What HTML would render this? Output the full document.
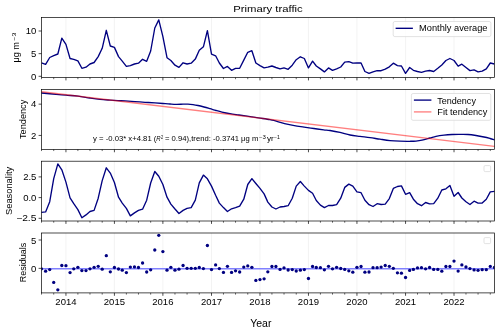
<!DOCTYPE html><html><head><meta charset="utf-8"><style>html,body{margin:0;padding:0;background:#fff;}svg{display:block;will-change:transform;}text{font-family:"Liberation Sans",sans-serif;fill:#000;-webkit-font-smoothing:antialiased;}</style></head><body>
<svg width="500" height="332" viewBox="0 0 500 332">
<rect width="500" height="332" fill="#fff"/>
<text x="268" y="12.4" font-size="9.6" text-anchor="middle" textLength="69.5" lengthAdjust="spacingAndGlyphs">Primary traffic</text>
<line x1="65.94" y1="17.5" x2="65.94" y2="77.5" stroke="#f0f0f0" stroke-width="0.8"/>
<line x1="114.42" y1="17.5" x2="114.42" y2="77.5" stroke="#f0f0f0" stroke-width="0.8"/>
<line x1="162.89" y1="17.5" x2="162.89" y2="77.5" stroke="#f0f0f0" stroke-width="0.8"/>
<line x1="211.50" y1="17.5" x2="211.50" y2="77.5" stroke="#f0f0f0" stroke-width="0.8"/>
<line x1="259.98" y1="17.5" x2="259.98" y2="77.5" stroke="#f0f0f0" stroke-width="0.8"/>
<line x1="308.46" y1="17.5" x2="308.46" y2="77.5" stroke="#f0f0f0" stroke-width="0.8"/>
<line x1="356.94" y1="17.5" x2="356.94" y2="77.5" stroke="#f0f0f0" stroke-width="0.8"/>
<line x1="405.55" y1="17.5" x2="405.55" y2="77.5" stroke="#f0f0f0" stroke-width="0.8"/>
<line x1="454.02" y1="17.5" x2="454.02" y2="77.5" stroke="#f0f0f0" stroke-width="0.8"/>
<line x1="65.94" y1="77.5" x2="65.94" y2="80.4" stroke="#000" stroke-width="0.7"/>
<line x1="114.42" y1="77.5" x2="114.42" y2="80.4" stroke="#000" stroke-width="0.7"/>
<line x1="162.89" y1="77.5" x2="162.89" y2="80.4" stroke="#000" stroke-width="0.7"/>
<line x1="211.50" y1="77.5" x2="211.50" y2="80.4" stroke="#000" stroke-width="0.7"/>
<line x1="259.98" y1="77.5" x2="259.98" y2="80.4" stroke="#000" stroke-width="0.7"/>
<line x1="308.46" y1="77.5" x2="308.46" y2="80.4" stroke="#000" stroke-width="0.7"/>
<line x1="356.94" y1="77.5" x2="356.94" y2="80.4" stroke="#000" stroke-width="0.7"/>
<line x1="405.55" y1="77.5" x2="405.55" y2="80.4" stroke="#000" stroke-width="0.7"/>
<line x1="454.02" y1="77.5" x2="454.02" y2="80.4" stroke="#000" stroke-width="0.7"/>
<line x1="41.50" y1="77.5" x2="41.50" y2="79.2" stroke="#000" stroke-width="0.6"/>
<line x1="53.72" y1="77.5" x2="53.72" y2="79.2" stroke="#000" stroke-width="0.6"/>
<line x1="77.89" y1="77.5" x2="77.89" y2="79.2" stroke="#000" stroke-width="0.6"/>
<line x1="89.98" y1="77.5" x2="89.98" y2="79.2" stroke="#000" stroke-width="0.6"/>
<line x1="102.20" y1="77.5" x2="102.20" y2="79.2" stroke="#000" stroke-width="0.6"/>
<line x1="126.37" y1="77.5" x2="126.37" y2="79.2" stroke="#000" stroke-width="0.6"/>
<line x1="138.46" y1="77.5" x2="138.46" y2="79.2" stroke="#000" stroke-width="0.6"/>
<line x1="150.67" y1="77.5" x2="150.67" y2="79.2" stroke="#000" stroke-width="0.6"/>
<line x1="174.98" y1="77.5" x2="174.98" y2="79.2" stroke="#000" stroke-width="0.6"/>
<line x1="187.07" y1="77.5" x2="187.07" y2="79.2" stroke="#000" stroke-width="0.6"/>
<line x1="199.28" y1="77.5" x2="199.28" y2="79.2" stroke="#000" stroke-width="0.6"/>
<line x1="223.46" y1="77.5" x2="223.46" y2="79.2" stroke="#000" stroke-width="0.6"/>
<line x1="235.54" y1="77.5" x2="235.54" y2="79.2" stroke="#000" stroke-width="0.6"/>
<line x1="247.76" y1="77.5" x2="247.76" y2="79.2" stroke="#000" stroke-width="0.6"/>
<line x1="271.93" y1="77.5" x2="271.93" y2="79.2" stroke="#000" stroke-width="0.6"/>
<line x1="284.02" y1="77.5" x2="284.02" y2="79.2" stroke="#000" stroke-width="0.6"/>
<line x1="296.24" y1="77.5" x2="296.24" y2="79.2" stroke="#000" stroke-width="0.6"/>
<line x1="320.41" y1="77.5" x2="320.41" y2="79.2" stroke="#000" stroke-width="0.6"/>
<line x1="332.50" y1="77.5" x2="332.50" y2="79.2" stroke="#000" stroke-width="0.6"/>
<line x1="344.72" y1="77.5" x2="344.72" y2="79.2" stroke="#000" stroke-width="0.6"/>
<line x1="369.02" y1="77.5" x2="369.02" y2="79.2" stroke="#000" stroke-width="0.6"/>
<line x1="381.11" y1="77.5" x2="381.11" y2="79.2" stroke="#000" stroke-width="0.6"/>
<line x1="393.33" y1="77.5" x2="393.33" y2="79.2" stroke="#000" stroke-width="0.6"/>
<line x1="417.50" y1="77.5" x2="417.50" y2="79.2" stroke="#000" stroke-width="0.6"/>
<line x1="429.59" y1="77.5" x2="429.59" y2="79.2" stroke="#000" stroke-width="0.6"/>
<line x1="441.81" y1="77.5" x2="441.81" y2="79.2" stroke="#000" stroke-width="0.6"/>
<line x1="465.98" y1="77.5" x2="465.98" y2="79.2" stroke="#000" stroke-width="0.6"/>
<line x1="478.06" y1="77.5" x2="478.06" y2="79.2" stroke="#000" stroke-width="0.6"/>
<line x1="490.28" y1="77.5" x2="490.28" y2="79.2" stroke="#000" stroke-width="0.6"/>
<line x1="65.94" y1="89.4" x2="65.94" y2="149.35" stroke="#f0f0f0" stroke-width="0.8"/>
<line x1="114.42" y1="89.4" x2="114.42" y2="149.35" stroke="#f0f0f0" stroke-width="0.8"/>
<line x1="162.89" y1="89.4" x2="162.89" y2="149.35" stroke="#f0f0f0" stroke-width="0.8"/>
<line x1="211.50" y1="89.4" x2="211.50" y2="149.35" stroke="#f0f0f0" stroke-width="0.8"/>
<line x1="259.98" y1="89.4" x2="259.98" y2="149.35" stroke="#f0f0f0" stroke-width="0.8"/>
<line x1="308.46" y1="89.4" x2="308.46" y2="149.35" stroke="#f0f0f0" stroke-width="0.8"/>
<line x1="356.94" y1="89.4" x2="356.94" y2="149.35" stroke="#f0f0f0" stroke-width="0.8"/>
<line x1="405.55" y1="89.4" x2="405.55" y2="149.35" stroke="#f0f0f0" stroke-width="0.8"/>
<line x1="454.02" y1="89.4" x2="454.02" y2="149.35" stroke="#f0f0f0" stroke-width="0.8"/>
<line x1="65.94" y1="149.35" x2="65.94" y2="152.25" stroke="#000" stroke-width="0.7"/>
<line x1="114.42" y1="149.35" x2="114.42" y2="152.25" stroke="#000" stroke-width="0.7"/>
<line x1="162.89" y1="149.35" x2="162.89" y2="152.25" stroke="#000" stroke-width="0.7"/>
<line x1="211.50" y1="149.35" x2="211.50" y2="152.25" stroke="#000" stroke-width="0.7"/>
<line x1="259.98" y1="149.35" x2="259.98" y2="152.25" stroke="#000" stroke-width="0.7"/>
<line x1="308.46" y1="149.35" x2="308.46" y2="152.25" stroke="#000" stroke-width="0.7"/>
<line x1="356.94" y1="149.35" x2="356.94" y2="152.25" stroke="#000" stroke-width="0.7"/>
<line x1="405.55" y1="149.35" x2="405.55" y2="152.25" stroke="#000" stroke-width="0.7"/>
<line x1="454.02" y1="149.35" x2="454.02" y2="152.25" stroke="#000" stroke-width="0.7"/>
<line x1="41.50" y1="149.35" x2="41.50" y2="151.04999999999998" stroke="#000" stroke-width="0.6"/>
<line x1="53.72" y1="149.35" x2="53.72" y2="151.04999999999998" stroke="#000" stroke-width="0.6"/>
<line x1="77.89" y1="149.35" x2="77.89" y2="151.04999999999998" stroke="#000" stroke-width="0.6"/>
<line x1="89.98" y1="149.35" x2="89.98" y2="151.04999999999998" stroke="#000" stroke-width="0.6"/>
<line x1="102.20" y1="149.35" x2="102.20" y2="151.04999999999998" stroke="#000" stroke-width="0.6"/>
<line x1="126.37" y1="149.35" x2="126.37" y2="151.04999999999998" stroke="#000" stroke-width="0.6"/>
<line x1="138.46" y1="149.35" x2="138.46" y2="151.04999999999998" stroke="#000" stroke-width="0.6"/>
<line x1="150.67" y1="149.35" x2="150.67" y2="151.04999999999998" stroke="#000" stroke-width="0.6"/>
<line x1="174.98" y1="149.35" x2="174.98" y2="151.04999999999998" stroke="#000" stroke-width="0.6"/>
<line x1="187.07" y1="149.35" x2="187.07" y2="151.04999999999998" stroke="#000" stroke-width="0.6"/>
<line x1="199.28" y1="149.35" x2="199.28" y2="151.04999999999998" stroke="#000" stroke-width="0.6"/>
<line x1="223.46" y1="149.35" x2="223.46" y2="151.04999999999998" stroke="#000" stroke-width="0.6"/>
<line x1="235.54" y1="149.35" x2="235.54" y2="151.04999999999998" stroke="#000" stroke-width="0.6"/>
<line x1="247.76" y1="149.35" x2="247.76" y2="151.04999999999998" stroke="#000" stroke-width="0.6"/>
<line x1="271.93" y1="149.35" x2="271.93" y2="151.04999999999998" stroke="#000" stroke-width="0.6"/>
<line x1="284.02" y1="149.35" x2="284.02" y2="151.04999999999998" stroke="#000" stroke-width="0.6"/>
<line x1="296.24" y1="149.35" x2="296.24" y2="151.04999999999998" stroke="#000" stroke-width="0.6"/>
<line x1="320.41" y1="149.35" x2="320.41" y2="151.04999999999998" stroke="#000" stroke-width="0.6"/>
<line x1="332.50" y1="149.35" x2="332.50" y2="151.04999999999998" stroke="#000" stroke-width="0.6"/>
<line x1="344.72" y1="149.35" x2="344.72" y2="151.04999999999998" stroke="#000" stroke-width="0.6"/>
<line x1="369.02" y1="149.35" x2="369.02" y2="151.04999999999998" stroke="#000" stroke-width="0.6"/>
<line x1="381.11" y1="149.35" x2="381.11" y2="151.04999999999998" stroke="#000" stroke-width="0.6"/>
<line x1="393.33" y1="149.35" x2="393.33" y2="151.04999999999998" stroke="#000" stroke-width="0.6"/>
<line x1="417.50" y1="149.35" x2="417.50" y2="151.04999999999998" stroke="#000" stroke-width="0.6"/>
<line x1="429.59" y1="149.35" x2="429.59" y2="151.04999999999998" stroke="#000" stroke-width="0.6"/>
<line x1="441.81" y1="149.35" x2="441.81" y2="151.04999999999998" stroke="#000" stroke-width="0.6"/>
<line x1="465.98" y1="149.35" x2="465.98" y2="151.04999999999998" stroke="#000" stroke-width="0.6"/>
<line x1="478.06" y1="149.35" x2="478.06" y2="151.04999999999998" stroke="#000" stroke-width="0.6"/>
<line x1="490.28" y1="149.35" x2="490.28" y2="151.04999999999998" stroke="#000" stroke-width="0.6"/>
<line x1="65.94" y1="161.2" x2="65.94" y2="221.0" stroke="#f0f0f0" stroke-width="0.8"/>
<line x1="114.42" y1="161.2" x2="114.42" y2="221.0" stroke="#f0f0f0" stroke-width="0.8"/>
<line x1="162.89" y1="161.2" x2="162.89" y2="221.0" stroke="#f0f0f0" stroke-width="0.8"/>
<line x1="211.50" y1="161.2" x2="211.50" y2="221.0" stroke="#f0f0f0" stroke-width="0.8"/>
<line x1="259.98" y1="161.2" x2="259.98" y2="221.0" stroke="#f0f0f0" stroke-width="0.8"/>
<line x1="308.46" y1="161.2" x2="308.46" y2="221.0" stroke="#f0f0f0" stroke-width="0.8"/>
<line x1="356.94" y1="161.2" x2="356.94" y2="221.0" stroke="#f0f0f0" stroke-width="0.8"/>
<line x1="405.55" y1="161.2" x2="405.55" y2="221.0" stroke="#f0f0f0" stroke-width="0.8"/>
<line x1="454.02" y1="161.2" x2="454.02" y2="221.0" stroke="#f0f0f0" stroke-width="0.8"/>
<line x1="65.94" y1="221.0" x2="65.94" y2="223.9" stroke="#000" stroke-width="0.7"/>
<line x1="114.42" y1="221.0" x2="114.42" y2="223.9" stroke="#000" stroke-width="0.7"/>
<line x1="162.89" y1="221.0" x2="162.89" y2="223.9" stroke="#000" stroke-width="0.7"/>
<line x1="211.50" y1="221.0" x2="211.50" y2="223.9" stroke="#000" stroke-width="0.7"/>
<line x1="259.98" y1="221.0" x2="259.98" y2="223.9" stroke="#000" stroke-width="0.7"/>
<line x1="308.46" y1="221.0" x2="308.46" y2="223.9" stroke="#000" stroke-width="0.7"/>
<line x1="356.94" y1="221.0" x2="356.94" y2="223.9" stroke="#000" stroke-width="0.7"/>
<line x1="405.55" y1="221.0" x2="405.55" y2="223.9" stroke="#000" stroke-width="0.7"/>
<line x1="454.02" y1="221.0" x2="454.02" y2="223.9" stroke="#000" stroke-width="0.7"/>
<line x1="41.50" y1="221.0" x2="41.50" y2="222.7" stroke="#000" stroke-width="0.6"/>
<line x1="53.72" y1="221.0" x2="53.72" y2="222.7" stroke="#000" stroke-width="0.6"/>
<line x1="77.89" y1="221.0" x2="77.89" y2="222.7" stroke="#000" stroke-width="0.6"/>
<line x1="89.98" y1="221.0" x2="89.98" y2="222.7" stroke="#000" stroke-width="0.6"/>
<line x1="102.20" y1="221.0" x2="102.20" y2="222.7" stroke="#000" stroke-width="0.6"/>
<line x1="126.37" y1="221.0" x2="126.37" y2="222.7" stroke="#000" stroke-width="0.6"/>
<line x1="138.46" y1="221.0" x2="138.46" y2="222.7" stroke="#000" stroke-width="0.6"/>
<line x1="150.67" y1="221.0" x2="150.67" y2="222.7" stroke="#000" stroke-width="0.6"/>
<line x1="174.98" y1="221.0" x2="174.98" y2="222.7" stroke="#000" stroke-width="0.6"/>
<line x1="187.07" y1="221.0" x2="187.07" y2="222.7" stroke="#000" stroke-width="0.6"/>
<line x1="199.28" y1="221.0" x2="199.28" y2="222.7" stroke="#000" stroke-width="0.6"/>
<line x1="223.46" y1="221.0" x2="223.46" y2="222.7" stroke="#000" stroke-width="0.6"/>
<line x1="235.54" y1="221.0" x2="235.54" y2="222.7" stroke="#000" stroke-width="0.6"/>
<line x1="247.76" y1="221.0" x2="247.76" y2="222.7" stroke="#000" stroke-width="0.6"/>
<line x1="271.93" y1="221.0" x2="271.93" y2="222.7" stroke="#000" stroke-width="0.6"/>
<line x1="284.02" y1="221.0" x2="284.02" y2="222.7" stroke="#000" stroke-width="0.6"/>
<line x1="296.24" y1="221.0" x2="296.24" y2="222.7" stroke="#000" stroke-width="0.6"/>
<line x1="320.41" y1="221.0" x2="320.41" y2="222.7" stroke="#000" stroke-width="0.6"/>
<line x1="332.50" y1="221.0" x2="332.50" y2="222.7" stroke="#000" stroke-width="0.6"/>
<line x1="344.72" y1="221.0" x2="344.72" y2="222.7" stroke="#000" stroke-width="0.6"/>
<line x1="369.02" y1="221.0" x2="369.02" y2="222.7" stroke="#000" stroke-width="0.6"/>
<line x1="381.11" y1="221.0" x2="381.11" y2="222.7" stroke="#000" stroke-width="0.6"/>
<line x1="393.33" y1="221.0" x2="393.33" y2="222.7" stroke="#000" stroke-width="0.6"/>
<line x1="417.50" y1="221.0" x2="417.50" y2="222.7" stroke="#000" stroke-width="0.6"/>
<line x1="429.59" y1="221.0" x2="429.59" y2="222.7" stroke="#000" stroke-width="0.6"/>
<line x1="441.81" y1="221.0" x2="441.81" y2="222.7" stroke="#000" stroke-width="0.6"/>
<line x1="465.98" y1="221.0" x2="465.98" y2="222.7" stroke="#000" stroke-width="0.6"/>
<line x1="478.06" y1="221.0" x2="478.06" y2="222.7" stroke="#000" stroke-width="0.6"/>
<line x1="490.28" y1="221.0" x2="490.28" y2="222.7" stroke="#000" stroke-width="0.6"/>
<line x1="65.94" y1="233.0" x2="65.94" y2="292.9" stroke="#f0f0f0" stroke-width="0.8"/>
<line x1="114.42" y1="233.0" x2="114.42" y2="292.9" stroke="#f0f0f0" stroke-width="0.8"/>
<line x1="162.89" y1="233.0" x2="162.89" y2="292.9" stroke="#f0f0f0" stroke-width="0.8"/>
<line x1="211.50" y1="233.0" x2="211.50" y2="292.9" stroke="#f0f0f0" stroke-width="0.8"/>
<line x1="259.98" y1="233.0" x2="259.98" y2="292.9" stroke="#f0f0f0" stroke-width="0.8"/>
<line x1="308.46" y1="233.0" x2="308.46" y2="292.9" stroke="#f0f0f0" stroke-width="0.8"/>
<line x1="356.94" y1="233.0" x2="356.94" y2="292.9" stroke="#f0f0f0" stroke-width="0.8"/>
<line x1="405.55" y1="233.0" x2="405.55" y2="292.9" stroke="#f0f0f0" stroke-width="0.8"/>
<line x1="454.02" y1="233.0" x2="454.02" y2="292.9" stroke="#f0f0f0" stroke-width="0.8"/>
<line x1="65.94" y1="292.9" x2="65.94" y2="295.79999999999995" stroke="#000" stroke-width="0.7"/>
<line x1="114.42" y1="292.9" x2="114.42" y2="295.79999999999995" stroke="#000" stroke-width="0.7"/>
<line x1="162.89" y1="292.9" x2="162.89" y2="295.79999999999995" stroke="#000" stroke-width="0.7"/>
<line x1="211.50" y1="292.9" x2="211.50" y2="295.79999999999995" stroke="#000" stroke-width="0.7"/>
<line x1="259.98" y1="292.9" x2="259.98" y2="295.79999999999995" stroke="#000" stroke-width="0.7"/>
<line x1="308.46" y1="292.9" x2="308.46" y2="295.79999999999995" stroke="#000" stroke-width="0.7"/>
<line x1="356.94" y1="292.9" x2="356.94" y2="295.79999999999995" stroke="#000" stroke-width="0.7"/>
<line x1="405.55" y1="292.9" x2="405.55" y2="295.79999999999995" stroke="#000" stroke-width="0.7"/>
<line x1="454.02" y1="292.9" x2="454.02" y2="295.79999999999995" stroke="#000" stroke-width="0.7"/>
<line x1="41.50" y1="292.9" x2="41.50" y2="294.59999999999997" stroke="#000" stroke-width="0.6"/>
<line x1="53.72" y1="292.9" x2="53.72" y2="294.59999999999997" stroke="#000" stroke-width="0.6"/>
<line x1="77.89" y1="292.9" x2="77.89" y2="294.59999999999997" stroke="#000" stroke-width="0.6"/>
<line x1="89.98" y1="292.9" x2="89.98" y2="294.59999999999997" stroke="#000" stroke-width="0.6"/>
<line x1="102.20" y1="292.9" x2="102.20" y2="294.59999999999997" stroke="#000" stroke-width="0.6"/>
<line x1="126.37" y1="292.9" x2="126.37" y2="294.59999999999997" stroke="#000" stroke-width="0.6"/>
<line x1="138.46" y1="292.9" x2="138.46" y2="294.59999999999997" stroke="#000" stroke-width="0.6"/>
<line x1="150.67" y1="292.9" x2="150.67" y2="294.59999999999997" stroke="#000" stroke-width="0.6"/>
<line x1="174.98" y1="292.9" x2="174.98" y2="294.59999999999997" stroke="#000" stroke-width="0.6"/>
<line x1="187.07" y1="292.9" x2="187.07" y2="294.59999999999997" stroke="#000" stroke-width="0.6"/>
<line x1="199.28" y1="292.9" x2="199.28" y2="294.59999999999997" stroke="#000" stroke-width="0.6"/>
<line x1="223.46" y1="292.9" x2="223.46" y2="294.59999999999997" stroke="#000" stroke-width="0.6"/>
<line x1="235.54" y1="292.9" x2="235.54" y2="294.59999999999997" stroke="#000" stroke-width="0.6"/>
<line x1="247.76" y1="292.9" x2="247.76" y2="294.59999999999997" stroke="#000" stroke-width="0.6"/>
<line x1="271.93" y1="292.9" x2="271.93" y2="294.59999999999997" stroke="#000" stroke-width="0.6"/>
<line x1="284.02" y1="292.9" x2="284.02" y2="294.59999999999997" stroke="#000" stroke-width="0.6"/>
<line x1="296.24" y1="292.9" x2="296.24" y2="294.59999999999997" stroke="#000" stroke-width="0.6"/>
<line x1="320.41" y1="292.9" x2="320.41" y2="294.59999999999997" stroke="#000" stroke-width="0.6"/>
<line x1="332.50" y1="292.9" x2="332.50" y2="294.59999999999997" stroke="#000" stroke-width="0.6"/>
<line x1="344.72" y1="292.9" x2="344.72" y2="294.59999999999997" stroke="#000" stroke-width="0.6"/>
<line x1="369.02" y1="292.9" x2="369.02" y2="294.59999999999997" stroke="#000" stroke-width="0.6"/>
<line x1="381.11" y1="292.9" x2="381.11" y2="294.59999999999997" stroke="#000" stroke-width="0.6"/>
<line x1="393.33" y1="292.9" x2="393.33" y2="294.59999999999997" stroke="#000" stroke-width="0.6"/>
<line x1="417.50" y1="292.9" x2="417.50" y2="294.59999999999997" stroke="#000" stroke-width="0.6"/>
<line x1="429.59" y1="292.9" x2="429.59" y2="294.59999999999997" stroke="#000" stroke-width="0.6"/>
<line x1="441.81" y1="292.9" x2="441.81" y2="294.59999999999997" stroke="#000" stroke-width="0.6"/>
<line x1="465.98" y1="292.9" x2="465.98" y2="294.59999999999997" stroke="#000" stroke-width="0.6"/>
<line x1="478.06" y1="292.9" x2="478.06" y2="294.59999999999997" stroke="#000" stroke-width="0.6"/>
<line x1="490.28" y1="292.9" x2="490.28" y2="294.59999999999997" stroke="#000" stroke-width="0.6"/>
<clipPath id="c1"><rect x="41.5" y="17.5" width="452.9" height="60"/></clipPath>
<polyline points="41.50,62.80 45.62,64.40 49.73,57.50 53.72,55.60 57.84,54.00 61.82,38.10 65.94,44.40 70.06,58.50 73.77,59.30 77.89,60.90 81.88,68.30 85.99,67.20 89.98,64.00 94.09,62.50 98.21,56.60 102.20,48.30 106.31,30.30 110.30,46.00 114.42,47.40 118.53,56.60 122.25,61.10 126.37,66.40 130.35,65.60 134.47,64.00 138.46,63.20 142.57,59.30 146.69,61.30 150.67,51.00 154.79,28.00 158.78,19.90 162.89,36.60 167.01,57.70 170.86,60.50 174.98,65.20 178.96,67.40 183.08,62.80 187.07,64.00 191.18,63.20 195.30,59.10 199.28,50.30 203.40,46.80 207.39,30.70 211.50,54.20 215.62,55.80 219.34,63.00 223.46,68.50 227.44,66.40 231.56,70.30 235.54,68.30 239.66,68.30 243.78,60.10 247.76,52.30 251.88,50.70 255.86,63.00 259.98,65.60 264.10,67.90 267.82,67.20 271.93,66.00 275.92,67.50 280.04,68.90 284.02,67.90 288.14,69.30 292.26,65.20 296.24,59.70 300.36,56.80 304.34,58.50 308.46,67.90 312.58,61.10 316.29,66.00 320.41,68.90 324.40,71.90 328.51,67.90 332.50,70.30 336.62,68.90 340.73,67.00 344.72,62.10 348.83,61.70 352.82,63.20 356.94,63.00 361.05,63.00 364.91,71.50 369.02,73.40 373.01,71.90 377.12,70.70 381.11,70.70 385.23,69.10 389.34,66.80 393.33,63.20 397.44,65.60 401.43,66.00 405.55,73.40 409.66,67.50 413.38,70.30 417.50,71.50 421.48,72.30 425.60,71.20 429.59,70.50 433.70,71.50 437.82,68.30 441.81,65.00 445.92,60.50 449.91,58.50 454.02,60.50 458.14,66.20 461.86,64.20 465.98,67.50 469.96,70.60 474.08,69.90 478.06,71.90 482.18,71.20 486.30,68.90 490.28,63.00 494.40,64.00" fill="none" stroke="#000080" stroke-width="1.35" stroke-linejoin="round" stroke-linecap="butt" clip-path="url(#c1)"/>
<path d="M41.50,93.00 C43.92,93.22 51.92,93.93 56.00,94.30 C60.08,94.67 62.33,94.88 66.00,95.20 C69.67,95.52 74.00,95.73 78.00,96.20 C82.00,96.67 86.33,97.48 90.00,98.00 C93.67,98.52 96.67,98.95 100.00,99.30 C103.33,99.65 107.00,99.88 110.00,100.10 C113.00,100.32 115.50,100.47 118.00,100.60 C120.50,100.73 122.17,100.73 125.00,100.90 C127.83,101.07 131.67,101.37 135.00,101.60 C138.33,101.83 141.67,102.08 145.00,102.30 C148.33,102.52 152.00,102.70 155.00,102.90 C158.00,103.10 160.50,103.32 163.00,103.50 C165.50,103.68 167.83,103.87 170.00,104.00 C172.17,104.13 173.83,104.27 176.00,104.30 C178.17,104.33 181.00,104.23 183.00,104.20 C185.00,104.17 186.33,104.03 188.00,104.10 C189.67,104.17 191.33,104.37 193.00,104.60 C194.67,104.83 196.17,105.10 198.00,105.50 C199.83,105.90 202.00,106.47 204.00,107.00 C206.00,107.53 208.00,108.12 210.00,108.70 C212.00,109.28 214.00,109.93 216.00,110.50 C218.00,111.07 219.67,111.57 222.00,112.10 C224.33,112.63 227.18,113.22 230.00,113.70 C232.82,114.18 235.78,114.55 238.90,115.00 C242.02,115.45 245.43,115.92 248.70,116.40 C251.97,116.88 254.95,117.37 258.50,117.90 C262.05,118.43 267.28,119.13 270.00,119.60 C272.72,120.07 272.37,120.03 274.80,120.70 C277.23,121.37 281.33,122.77 284.60,123.60 C287.87,124.43 291.15,125.12 294.40,125.70 C297.65,126.28 300.85,126.63 304.10,127.10 C307.35,127.57 310.63,128.05 313.90,128.50 C317.17,128.95 321.02,129.47 323.70,129.80 C326.38,130.13 327.28,130.07 330.00,130.50 C332.72,130.93 336.67,131.65 340.00,132.40 C343.33,133.15 346.67,134.33 350.00,135.00 C353.33,135.67 356.67,135.97 360.00,136.40 C363.33,136.83 366.67,137.13 370.00,137.60 C373.33,138.07 376.67,138.70 380.00,139.20 C383.33,139.70 386.67,140.27 390.00,140.60 C393.33,140.93 396.67,141.08 400.00,141.20 C403.33,141.32 407.33,141.32 410.00,141.30 C412.67,141.28 414.00,141.28 416.00,141.10 C418.00,140.92 419.67,140.72 422.00,140.20 C424.33,139.68 427.67,138.65 430.00,138.00 C432.33,137.35 433.67,136.78 436.00,136.30 C438.33,135.82 441.33,135.40 444.00,135.10 C446.67,134.80 449.33,134.62 452.00,134.50 C454.67,134.38 457.33,134.40 460.00,134.40 C462.67,134.40 465.33,134.32 468.00,134.50 C470.67,134.68 473.33,135.08 476.00,135.50 C478.67,135.92 481.67,136.50 484.00,137.00 C486.33,137.50 488.27,138.03 490.00,138.50 C491.73,138.97 493.67,139.58 494.40,139.80" fill="none" stroke="#000080" stroke-width="1.35" stroke-linejoin="round"/>
<polyline points="41.50,91.75 494.40,146.35" fill="none" stroke="#ff0000" stroke-opacity="0.5" stroke-width="1.35"/>
<polyline points="41.50,212.30 45.62,211.90 49.73,201.70 53.72,178.60 57.84,163.90 61.82,169.80 65.94,182.10 70.06,197.80 73.77,203.70 77.89,209.60 81.88,217.80 85.99,214.90 89.98,211.50 94.09,210.40 98.21,198.20 102.20,180.60 106.31,167.80 110.30,173.10 114.42,182.50 118.53,197.20 122.25,203.10 126.37,208.40 130.35,215.90 134.47,212.90 138.46,210.40 142.57,209.20 146.69,200.20 150.67,183.00 154.79,171.50 158.78,176.30 162.89,184.50 167.01,197.20 170.86,204.10 174.98,209.00 178.96,213.50 183.08,210.40 187.07,208.40 191.18,207.60 195.30,200.20 199.28,182.90 203.40,175.10 207.39,178.80 211.50,186.10 215.62,195.30 219.34,203.10 223.46,207.60 227.44,211.50 231.56,208.80 235.54,207.60 239.66,206.10 243.78,199.20 247.76,184.50 251.88,178.60 255.86,183.50 259.98,188.40 264.10,193.90 267.82,202.10 271.93,207.00 275.92,209.00 280.04,207.00 284.02,206.50 288.14,205.70 292.26,198.20 296.24,186.10 300.36,181.50 304.34,186.10 308.46,190.40 312.58,193.30 316.29,200.50 320.41,205.10 324.40,207.60 328.51,205.50 332.50,205.50 336.62,204.70 340.73,198.20 344.72,187.40 348.83,184.10 352.82,186.10 356.94,191.90 361.05,192.70 364.91,200.20 369.02,204.70 373.01,206.50 377.12,203.70 381.11,204.50 385.23,204.10 389.34,198.60 393.33,188.40 397.44,186.50 401.43,185.90 405.55,194.30 409.66,192.70 413.38,199.20 417.50,203.70 421.48,205.70 425.60,202.50 429.59,203.90 433.70,203.70 437.82,198.20 441.81,190.00 445.92,188.80 449.91,185.50 454.02,196.30 458.14,192.50 461.86,198.00 465.98,201.70 469.96,204.50 474.08,201.20 478.06,203.10 482.18,203.10 486.30,199.20 490.28,191.90 494.40,191.40" fill="none" stroke="#000080" stroke-width="1.35" stroke-linejoin="round"/>
<line x1="41.5" y1="268.8" x2="494.4" y2="268.8" stroke="#8080ff" stroke-width="1.5"/>
<clipPath id="c4"><rect x="41.5" y="233.0" width="452.9" height="59.9"/></clipPath>
<g clip-path="url(#c4)" fill="#000080">
<circle cx="41.50" cy="268.80" r="1.65"/>
<circle cx="45.62" cy="271.20" r="1.65"/>
<circle cx="49.73" cy="269.60" r="1.65"/>
<circle cx="53.72" cy="282.40" r="1.65"/>
<circle cx="57.84" cy="289.80" r="1.65"/>
<circle cx="61.82" cy="265.50" r="1.65"/>
<circle cx="65.94" cy="265.70" r="1.65"/>
<circle cx="70.06" cy="272.60" r="1.65"/>
<circle cx="73.77" cy="268.80" r="1.65"/>
<circle cx="77.89" cy="267.30" r="1.65"/>
<circle cx="81.88" cy="270.60" r="1.65"/>
<circle cx="85.99" cy="270.60" r="1.65"/>
<circle cx="89.98" cy="268.80" r="1.65"/>
<circle cx="94.09" cy="267.30" r="1.65"/>
<circle cx="98.21" cy="266.30" r="1.65"/>
<circle cx="102.20" cy="269.20" r="1.65"/>
<circle cx="106.31" cy="255.70" r="1.65"/>
<circle cx="110.30" cy="271.80" r="1.65"/>
<circle cx="114.42" cy="267.50" r="1.65"/>
<circle cx="118.53" cy="269.00" r="1.65"/>
<circle cx="122.25" cy="270.20" r="1.65"/>
<circle cx="126.37" cy="272.60" r="1.65"/>
<circle cx="130.35" cy="267.10" r="1.65"/>
<circle cx="134.47" cy="266.90" r="1.65"/>
<circle cx="138.46" cy="267.50" r="1.65"/>
<circle cx="142.57" cy="263.00" r="1.65"/>
<circle cx="146.69" cy="272.00" r="1.65"/>
<circle cx="150.67" cy="269.80" r="1.65"/>
<circle cx="154.79" cy="250.00" r="1.65"/>
<circle cx="158.78" cy="235.30" r="1.65"/>
<circle cx="162.89" cy="251.60" r="1.65"/>
<circle cx="167.01" cy="270.20" r="1.65"/>
<circle cx="170.86" cy="267.30" r="1.65"/>
<circle cx="174.98" cy="270.20" r="1.65"/>
<circle cx="178.96" cy="269.20" r="1.65"/>
<circle cx="183.08" cy="265.50" r="1.65"/>
<circle cx="187.07" cy="268.30" r="1.65"/>
<circle cx="191.18" cy="268.30" r="1.65"/>
<circle cx="195.30" cy="268.30" r="1.65"/>
<circle cx="199.28" cy="267.50" r="1.65"/>
<circle cx="203.40" cy="268.60" r="1.65"/>
<circle cx="207.39" cy="245.50" r="1.65"/>
<circle cx="211.50" cy="269.60" r="1.65"/>
<circle cx="215.62" cy="264.90" r="1.65"/>
<circle cx="219.34" cy="268.60" r="1.65"/>
<circle cx="223.46" cy="272.40" r="1.65"/>
<circle cx="227.44" cy="266.30" r="1.65"/>
<circle cx="231.56" cy="272.40" r="1.65"/>
<circle cx="235.54" cy="270.80" r="1.65"/>
<circle cx="239.66" cy="272.00" r="1.65"/>
<circle cx="243.78" cy="267.10" r="1.65"/>
<circle cx="247.76" cy="265.90" r="1.65"/>
<circle cx="251.88" cy="267.30" r="1.65"/>
<circle cx="255.86" cy="280.40" r="1.65"/>
<circle cx="259.98" cy="279.60" r="1.65"/>
<circle cx="264.10" cy="278.80" r="1.65"/>
<circle cx="267.82" cy="271.80" r="1.65"/>
<circle cx="271.93" cy="266.50" r="1.65"/>
<circle cx="275.92" cy="266.50" r="1.65"/>
<circle cx="280.04" cy="269.40" r="1.65"/>
<circle cx="284.02" cy="267.90" r="1.65"/>
<circle cx="288.14" cy="270.00" r="1.65"/>
<circle cx="292.26" cy="269.60" r="1.65"/>
<circle cx="296.24" cy="271.00" r="1.65"/>
<circle cx="300.36" cy="270.20" r="1.65"/>
<circle cx="304.34" cy="269.60" r="1.65"/>
<circle cx="308.46" cy="278.50" r="1.65"/>
<circle cx="312.58" cy="266.50" r="1.65"/>
<circle cx="316.29" cy="267.50" r="1.65"/>
<circle cx="320.41" cy="267.70" r="1.65"/>
<circle cx="324.40" cy="269.80" r="1.65"/>
<circle cx="328.51" cy="266.30" r="1.65"/>
<circle cx="332.50" cy="268.80" r="1.65"/>
<circle cx="336.62" cy="267.30" r="1.65"/>
<circle cx="340.73" cy="268.50" r="1.65"/>
<circle cx="344.72" cy="269.40" r="1.65"/>
<circle cx="348.83" cy="270.80" r="1.65"/>
<circle cx="352.82" cy="272.20" r="1.65"/>
<circle cx="356.94" cy="267.30" r="1.65"/>
<circle cx="361.05" cy="266.50" r="1.65"/>
<circle cx="364.91" cy="272.20" r="1.65"/>
<circle cx="369.02" cy="272.00" r="1.65"/>
<circle cx="373.01" cy="267.70" r="1.65"/>
<circle cx="377.12" cy="267.70" r="1.65"/>
<circle cx="381.11" cy="267.10" r="1.65"/>
<circle cx="385.23" cy="265.50" r="1.65"/>
<circle cx="389.34" cy="266.30" r="1.65"/>
<circle cx="393.33" cy="268.30" r="1.65"/>
<circle cx="397.44" cy="272.80" r="1.65"/>
<circle cx="401.43" cy="273.20" r="1.65"/>
<circle cx="405.55" cy="277.50" r="1.65"/>
<circle cx="409.66" cy="270.40" r="1.65"/>
<circle cx="413.38" cy="269.40" r="1.65"/>
<circle cx="417.50" cy="267.90" r="1.65"/>
<circle cx="421.48" cy="267.70" r="1.65"/>
<circle cx="425.60" cy="268.80" r="1.65"/>
<circle cx="429.59" cy="267.50" r="1.65"/>
<circle cx="433.70" cy="269.40" r="1.65"/>
<circle cx="437.82" cy="269.40" r="1.65"/>
<circle cx="441.81" cy="271.20" r="1.65"/>
<circle cx="445.92" cy="266.50" r="1.65"/>
<circle cx="449.91" cy="266.50" r="1.65"/>
<circle cx="454.02" cy="261.10" r="1.65"/>
<circle cx="458.14" cy="271.10" r="1.65"/>
<circle cx="461.86" cy="264.90" r="1.65"/>
<circle cx="465.98" cy="267.00" r="1.65"/>
<circle cx="469.96" cy="268.60" r="1.65"/>
<circle cx="474.08" cy="269.90" r="1.65"/>
<circle cx="478.06" cy="270.30" r="1.65"/>
<circle cx="482.18" cy="269.70" r="1.65"/>
<circle cx="486.30" cy="269.70" r="1.65"/>
<circle cx="490.28" cy="266.40" r="1.65"/>
<circle cx="494.40" cy="267.40" r="1.65"/>
</g>
<rect x="41.5" y="17.5" width="452.90" height="60.00" fill="none" stroke="#000" stroke-width="0.7"/>
<rect x="41.5" y="89.4" width="452.90" height="59.95" fill="none" stroke="#000" stroke-width="0.7"/>
<rect x="41.5" y="161.2" width="452.90" height="59.80" fill="none" stroke="#000" stroke-width="0.7"/>
<rect x="41.5" y="233.0" width="452.90" height="59.90" fill="none" stroke="#000" stroke-width="0.7"/>
<line x1="38.6" y1="76.3" x2="41.5" y2="76.3" stroke="#000" stroke-width="0.7"/>
<text x="36.4" y="80" font-size="8.6" text-anchor="end" textLength="5.30" lengthAdjust="spacingAndGlyphs">0</text>
<line x1="38.6" y1="53.65" x2="41.5" y2="53.65" stroke="#000" stroke-width="0.7"/>
<text x="36.4" y="57" font-size="8.6" text-anchor="end" textLength="5.30" lengthAdjust="spacingAndGlyphs">5</text>
<line x1="38.6" y1="31.0" x2="41.5" y2="31.0" stroke="#000" stroke-width="0.7"/>
<text x="36.4" y="34" font-size="8.6" text-anchor="end" textLength="10.60" lengthAdjust="spacingAndGlyphs">10</text>
<line x1="38.6" y1="104.15" x2="41.5" y2="104.15" stroke="#000" stroke-width="0.7"/>
<text x="36.4" y="107" font-size="8.6" text-anchor="end" textLength="5.30" lengthAdjust="spacingAndGlyphs">4</text>
<line x1="38.6" y1="135.45" x2="41.5" y2="135.45" stroke="#000" stroke-width="0.7"/>
<text x="36.4" y="139" font-size="8.6" text-anchor="end" textLength="5.30" lengthAdjust="spacingAndGlyphs">2</text>
<line x1="38.6" y1="176.9" x2="41.5" y2="176.9" stroke="#000" stroke-width="0.7"/>
<text x="36.4" y="179.9" font-size="8.6" text-anchor="end" textLength="13.24" lengthAdjust="spacingAndGlyphs">2.5</text>
<line x1="38.6" y1="197.6" x2="41.5" y2="197.6" stroke="#000" stroke-width="0.7"/>
<text x="36.4" y="200.6" font-size="8.6" text-anchor="end" textLength="13.24" lengthAdjust="spacingAndGlyphs">0.0</text>
<line x1="38.6" y1="218.3" x2="41.5" y2="218.3" stroke="#000" stroke-width="0.7"/>
<text x="36.4" y="221.3" font-size="8.6" text-anchor="end" textLength="20.23" lengthAdjust="spacingAndGlyphs">−2.5</text>
<line x1="38.6" y1="240.0" x2="41.5" y2="240.0" stroke="#000" stroke-width="0.7"/>
<text x="36.4" y="244" font-size="8.6" text-anchor="end" textLength="5.30" lengthAdjust="spacingAndGlyphs">5</text>
<line x1="38.6" y1="268.35" x2="41.5" y2="268.35" stroke="#000" stroke-width="0.7"/>
<text x="36.4" y="272" font-size="8.6" text-anchor="end" textLength="5.30" lengthAdjust="spacingAndGlyphs">0</text>
<text x="65.94" y="305.2" font-size="8.6" text-anchor="middle" textLength="21.19" lengthAdjust="spacingAndGlyphs">2014</text>
<text x="114.42" y="305.2" font-size="8.6" text-anchor="middle" textLength="21.19" lengthAdjust="spacingAndGlyphs">2015</text>
<text x="162.89" y="305.2" font-size="8.6" text-anchor="middle" textLength="21.19" lengthAdjust="spacingAndGlyphs">2016</text>
<text x="211.50" y="305.2" font-size="8.6" text-anchor="middle" textLength="21.19" lengthAdjust="spacingAndGlyphs">2017</text>
<text x="259.98" y="305.2" font-size="8.6" text-anchor="middle" textLength="21.19" lengthAdjust="spacingAndGlyphs">2018</text>
<text x="308.46" y="305.2" font-size="8.6" text-anchor="middle" textLength="21.19" lengthAdjust="spacingAndGlyphs">2019</text>
<text x="356.94" y="305.2" font-size="8.6" text-anchor="middle" textLength="21.19" lengthAdjust="spacingAndGlyphs">2020</text>
<text x="405.55" y="305.2" font-size="8.6" text-anchor="middle" textLength="21.19" lengthAdjust="spacingAndGlyphs">2021</text>
<text x="454.02" y="305.2" font-size="8.6" text-anchor="middle" textLength="21.19" lengthAdjust="spacingAndGlyphs">2022</text>
<g transform="translate(18.9,62.6) rotate(-90)"><text x="0" y="0" font-size="8.6" textLength="20.60" lengthAdjust="spacingAndGlyphs">μg m</text><text x="21.9" y="-3.4" font-size="6" textLength="8.00" lengthAdjust="spacingAndGlyphs">−3</text></g>
<text transform="translate(25.5,119.35) rotate(-90)" font-size="8.6" text-anchor="middle" textLength="39.30" lengthAdjust="spacingAndGlyphs">Tendency</text>
<text transform="translate(11.6,190.9) rotate(-90)" font-size="8.6" text-anchor="middle" textLength="48.20" lengthAdjust="spacingAndGlyphs">Seasonality</text>
<text transform="translate(25.6,262.55) rotate(-90)" font-size="8.6" text-anchor="middle" textLength="39.50" lengthAdjust="spacingAndGlyphs">Residuals</text>
<text x="260.8" y="326.8" font-size="10" text-anchor="middle" textLength="21.20" lengthAdjust="spacingAndGlyphs">Year</text>
<rect x="393.2" y="21.5" width="97.7" height="15.1" rx="1.7" fill="#fff" fill-opacity="0.8" stroke="#d6d6d6" stroke-width="0.7"/>
<line x1="395.6" y1="28.3" x2="412.9" y2="28.3" stroke="#000080" stroke-width="1.35"/>
<text x="419.1" y="31.3" font-size="8.6" textLength="68.40" lengthAdjust="spacingAndGlyphs">Monthly average</text>
<rect x="411.4" y="93.5" width="79.4" height="26.8" rx="1.7" fill="#fff" fill-opacity="0.8" stroke="#d6d6d6" stroke-width="0.7"/>
<line x1="413.9" y1="100.1" x2="431.4" y2="100.1" stroke="#000080" stroke-width="1.35"/>
<line x1="413.9" y1="111.9" x2="431.4" y2="111.9" stroke="#ff8080" stroke-width="1.35"/>
<text x="437.3" y="103.6" font-size="8.6" textLength="38.60" lengthAdjust="spacingAndGlyphs">Tendency</text>
<text x="437.3" y="115.2" font-size="8.6" textLength="50.00" lengthAdjust="spacingAndGlyphs">Fit tendency</text>
<rect x="484.0" y="165.6" width="6.6" height="6.0" rx="1.2" fill="#fff" stroke="#d6d6d6" stroke-width="0.7"/>
<rect x="484.0" y="237.6" width="6.6" height="6.0" rx="1.2" fill="#fff" stroke="#d6d6d6" stroke-width="0.7"/>
<text x="93.0" y="141.2" font-size="6.6" textLength="63.40" lengthAdjust="spacingAndGlyphs">y = -0.03* x+4.81 (</text>
<text x="156.2" y="141.2" font-size="6.6" textLength="4.30" lengthAdjust="spacingAndGlyphs" font-style="italic">R</text>
<text x="161.0" y="138.6" font-size="4.6" textLength="2.10" lengthAdjust="spacingAndGlyphs">2</text>
<text x="165.0" y="141.2" font-size="6.6" textLength="93.30" lengthAdjust="spacingAndGlyphs">= 0.94),trend: -0.3741 μg m</text>
<text x="258.9" y="138.6" font-size="4.6" textLength="6.90" lengthAdjust="spacingAndGlyphs">−3</text>
<text x="267.0" y="141.2" font-size="6.6" textLength="6.80" lengthAdjust="spacingAndGlyphs">yr</text>
<text x="274.0" y="138.6" font-size="4.6" textLength="5.90" lengthAdjust="spacingAndGlyphs">−1</text>
</svg></body></html>
